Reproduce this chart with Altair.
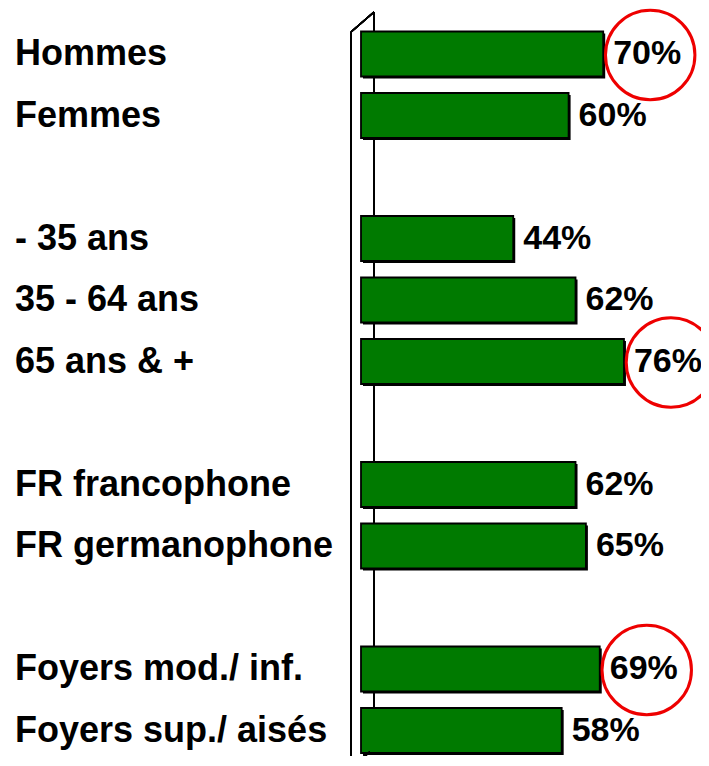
import altair as alt
import pandas as pd

categories = ["Hommes", "Femmes", "- 35 ans", "35 - 64 ans", "65 ans & +",
              "FR francophone", "FR germanophone",
              "Foyers mod./ inf.", "Foyers sup./ aisés"]
values = [70, 60, 44, 62, 76, 62, 65, 69, 58]
groups = [["Hommes", "Femmes"],
          ["- 35 ans", "35 - 64 ans", "65 ans & +"],
          ["FR francophone", "FR germanophone"],
          ["Foyers mod./ inf.", "Foyers sup./ aisés"]]
circled = ["Hommes", "65 ans & +", "Foyers mod./ inf."]

# category order with blank spacer slots between groups
domain = []
for i, g in enumerate(groups):
    if i > 0:
        domain.append(" " * i)
    domain.extend(g)

df = pd.DataFrame({
    "category": categories,
    "value": values,
    "label": [f"{v}%" for v in values],
    "circled": [c in circled for c in categories],
})

FONT = "Liberation Sans"
x = alt.X("value:Q", scale=alt.Scale(domain=[0, 100], range=[353, 699]), axis=None)
y = alt.Y("category:N", axis=None,
          scale=alt.Scale(domain=domain, range=[15.25, 753.25],
                          paddingInner=0.268, paddingOuter=0.134))

base = alt.Chart(df)

# 3D wall lines (decorative)
wall_back = base.mark_rule(color="black", strokeWidth=1.6).encode(
    x=alt.value(366), y=alt.value(4), y2=alt.value(744))
wall_front = base.mark_rule(color="black", strokeWidth=1.6).encode(
    x=alt.value(343), y=alt.value(24), y2=alt.value(760))
wall_top = base.mark_rule(color="black", strokeWidth=1.6).encode(
    x=alt.value(343), y=alt.value(24), x2=alt.value(366), y2=alt.value(4))
wall_bot = base.mark_rule(color="black", strokeWidth=1.6).encode(
    x=alt.value(343), y=alt.value(758), x2=alt.value(362), y2=alt.value(744))

shadow = base.mark_bar(color="black", xOffset=2, x2Offset=3, yOffset=2, y2Offset=2).encode(x=x, y=y)
bars = base.mark_bar(color="#007A00", stroke="black", strokeWidth=1.8).encode(x=x, y=y)

cat_labels = base.mark_text(align="left", baseline="middle", font=FONT,
                            fontWeight="bold", fontSize=36, color="black").encode(
    x=alt.value(7), y=y, text="category:N")

val_labels = base.mark_text(align="left", baseline="middle", dx=10, font=FONT,
                            fontWeight="bold", fontSize=34, color="black").encode(
    x=x, y=y, text="label:N")

circles = base.transform_filter(alt.datum.circled).mark_point(
    shape="circle", filled=False, color="#EE0000", strokeWidth=3,
    size=8000, xOffset=47, yOffset=1, opacity=1).encode(x=x, y=y)

chart = alt.layer(wall_back, shadow, bars, wall_front, wall_top, wall_bot,
                  cat_labels, val_labels, circles).properties(
    width=693, height=748, autosize="none", padding=0, background="white"
).configure_view(stroke=None)

chart.save("out.html", embed_options={"renderer": "svg", "actions": False})
